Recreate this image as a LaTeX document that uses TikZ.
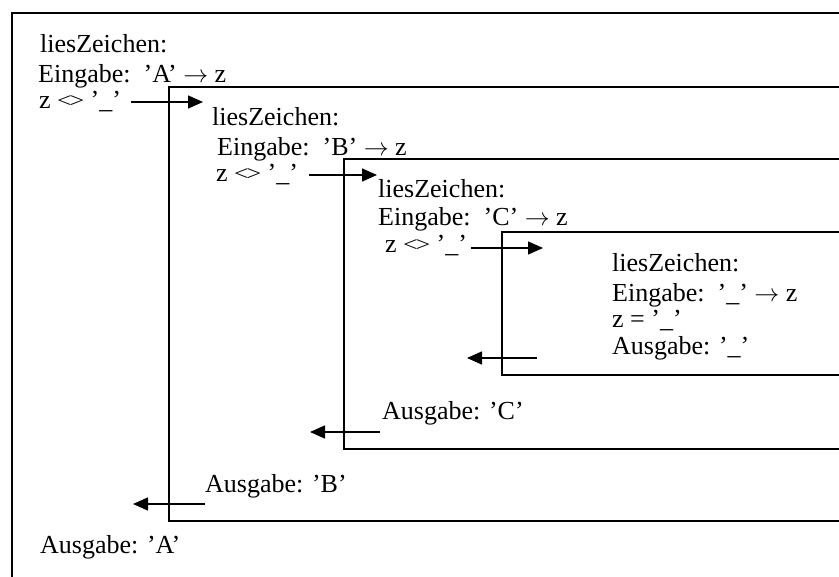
\documentclass[tikz,border=0pt]{standalone}
\usepackage{fontspec}
\usepackage{graphicx}
\setmainfont{Liberation Serif}
\usetikzlibrary{arrows.meta}
\newcommand{\myneq}{\raisebox{.05em}{\scalebox{1}[0.8]{<\kern-.09em>}}}
\begin{document}
\begin{tikzpicture}[x=1pt,y=-1pt,
  txt/.style={anchor=base west,inner sep=0pt,font=\fontsize{26}{30}\selectfont},
  frame/.style={draw=black,line width=1.8pt},
  flow/.style={line width=1.6pt,-{Triangle[length=15pt,width=13pt]}}]
\useasboundingbox (0,0) rectangle (839,577);
\fill[white] (0,0) rectangle (839,577);
\begin{scope}
\clip (0,0) rectangle (839,577);
\draw[frame] (12,600) -- (12,13) -- (860,13);
\draw[frame] (860,521) -- (169,521) -- (169,87) -- (860,87);
\draw[frame] (860,449) -- (344,449) -- (344,159) -- (860,159);
\draw[frame] (860,375) -- (502,375) -- (502,232) -- (860,232);
\end{scope}
% level A
\node[txt] (lA) at (40,53) {liesZeichen:};
\node[txt] (eA) at (38,83) {Eingabe:\ \ ’A’ $\rightarrow$ z};
\node[txt] (zA) at (39,109) {z \myneq\ ’\_’};
% level B
\node[txt] (lB) at (212,126) {liesZeichen:};
\node[txt] (eB) at (217,156) {Eingabe:\ \ ’B’ $\rightarrow$ z};
\node[txt] (zB) at (216,182) {z \myneq\ ’\_’};
% level C
\node[txt] (lC) at (378,198) {liesZeichen:};
\node[txt] (eC) at (378,226) {Eingabe:\ \ ’C’ $\rightarrow$ z};
\node[txt] (zC) at (385,253) {z \myneq\ ’\_’};
% level D
\node[txt] (lD) at (612,272) {liesZeichen:};
\node[txt] (eD) at (612,302) {Eingabe:\ \ ’\_’ $\rightarrow$ z};
\node[txt] (zD) at (612,328) {z = ’\_’};
\node[txt] (oD) at (612,355) {Ausgabe: ’\_’};
% outputs
\node[txt] (oC) at (382,420) {Ausgabe: ’C’};
\node[txt] (oB) at (205,493) {Ausgabe: ’B’};
\node[txt] (oA) at (40,553) {Ausgabe: ’A’};
% arrow ends
\coordinate (a1s) at (131,102); \coordinate (a1e) at (203,102);
\coordinate (a2s) at (309,175); \coordinate (a2e) at (377,175);
\coordinate (a3s) at (471,248); \coordinate (a3e) at (543,248);
\coordinate (r4s) at (537,358); \coordinate (r4e) at (467,358);
\coordinate (r3s) at (380,432); \coordinate (r3e) at (310,432);
\coordinate (r2s) at (205,504); \coordinate (r2e) at (133,504);
\draw[flow] (a1s) -- (a1e);
\draw[flow] (a2s) -- (a2e);
\draw[flow] (a3s) -- (a3e);
\draw[flow] (r4s) -- (r4e);
\draw[flow] (r3s) -- (r3e);
\draw[flow] (r2s) -- (r2e);
\end{tikzpicture}
\end{document}
